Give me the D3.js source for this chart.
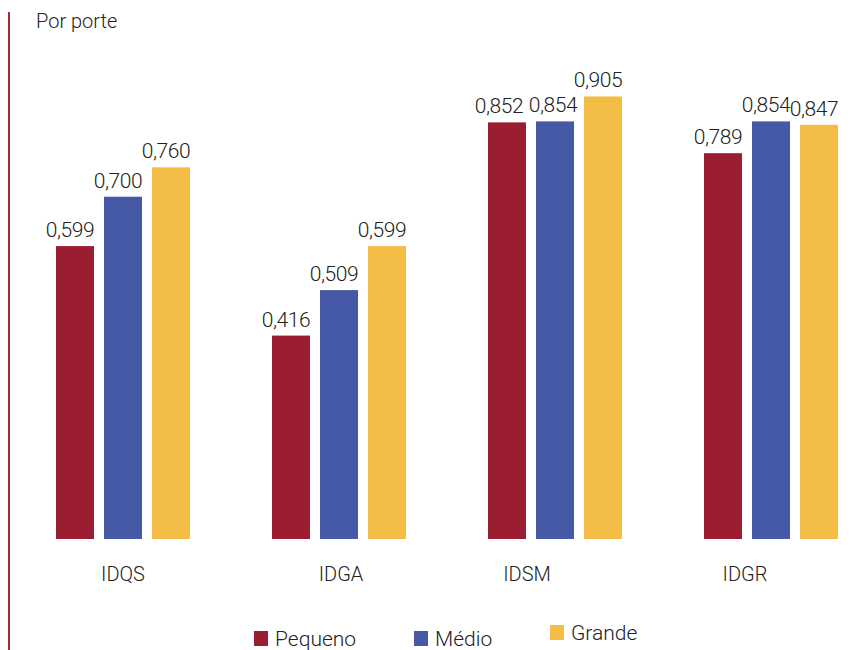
<!DOCTYPE html>
<html>
<head>
<meta charset="utf-8">
<script src="https://cdn.jsdelivr.net/npm/d3@7"></script>
<style>
  body { margin: 0; background: #fff; }
  text { font-family: "Roboto", "Liberation Sans", sans-serif; fill: #222; }
</style>
</head>
<body>
<div id="chart"></div>
<script>
// data
const groups = ["IDQS", "IDGA", "IDSM", "IDGR"];
const series = ["Pequeno", "Médio", "Grande"];
const pequeno = [0.599, 0.416, 0.852, 0.789];
const medio = [0.700, 0.509, 0.854, 0.854];
const grande = [0.760, 0.599, 0.905, 0.847];
const colors = ["#9b1d31", "#4659a6", "#f3bd45"];

const width = 853, height = 650;
const svg = d3.select("#chart").append("svg")
  .attr("width", width).attr("height", height);

const rows = groups.map((g, i) => ({
  group: g,
  values: [pequeno[i], medio[i], grande[i]]
}));

//#region scales
const x0 = d3.scaleBand().domain(groups).range([15, 879]);
const x1 = d3.scaleBand().domain(series).range([0, 134]).paddingInner(3 - 134 / 48);
const y = d3.scaleLinear().domain([0, 1]).range([539, 50]);
const fmt = v => d3.format(".3f")(v).replace(".", ",");
//#endregion

// left rule + title
svg.append("line")
  .attr("x1", 9).attr("x2", 9).attr("y1", 12).attr("y2", height)
  .attr("stroke", "#a3283c").attr("stroke-width", 2);
svg.append("text")
  .attr("x", 36).attr("y", 28)
  .style("font-size", "20px").style("font-weight", 300)
  .text("Por porte");

// bars
const g = svg.selectAll(".grp").data(rows).join("g")
  .attr("transform", d => `translate(${x0(d.group) + x0.bandwidth() / 2 - 67},0)`);

g.selectAll("rect").data(d => d.values.map((v, i) => ({ key: series[i], v, i })))
  .join("rect")
  .attr("x", d => x1(d.key))
  .attr("width", x1.bandwidth())
  .attr("y", d => y(d.v))
  .attr("height", d => y(0) - y(d.v))
  .attr("fill", d => colors[d.i]);

// value labels; the two close ones in IDSM are nudged apart like in the source
const nudge = { "IDSM-0": -3, "IDSM-1": 3 };
g.selectAll("text.val").data(d => d.values.map((v, i) => ({ group: d.group, key: series[i], v, i })))
  .join("text")
  .attr("class", "val")
  .attr("x", d => x1(d.key) + x1.bandwidth() / 2 - 5 + (nudge[d.group + "-" + d.i] || 0))
  .attr("y", d => y(d.v) - 9)
  .attr("text-anchor", "middle")
  .style("font-size", "21px").style("font-weight", 300)
  .style("letter-spacing", "-0.4px")
  .text(d => fmt(d.v));

// category axis (labels only); labels sit a bit left of the bars in the source
const labelShift = [0, 2, -28, -26];
const xAxis = d3.axisBottom(x0).tickSize(0).tickPadding(0);
const ax = svg.append("g").attr("transform", "translate(0,567)").call(xAxis);
ax.select(".domain").remove();
ax.selectAll(".tick text")
  .attr("dx", (d, i) => labelShift[i])
  .style("font-size", "20px").style("font-weight", 300)
  .style("font-family", "Roboto, 'Liberation Sans', sans-serif")
  .attr("fill", "#222");

// legend
const legendX = [254, 414, 550];
const legendY = [631, 631, 625];
const lg = svg.selectAll(".lg").data(series).join("g")
  .attr("transform", (d, i) => `translate(${legendX[i]},${legendY[i]})`);
lg.append("rect").attr("width", 14).attr("height", 15)
  .attr("fill", (d, i) => colors[i]);
lg.append("text").attr("x", 21).attr("y", 15)
  .style("font-size", "21px").style("font-weight", 300)
  .text(d => d);
</script>
</body>
</html>
